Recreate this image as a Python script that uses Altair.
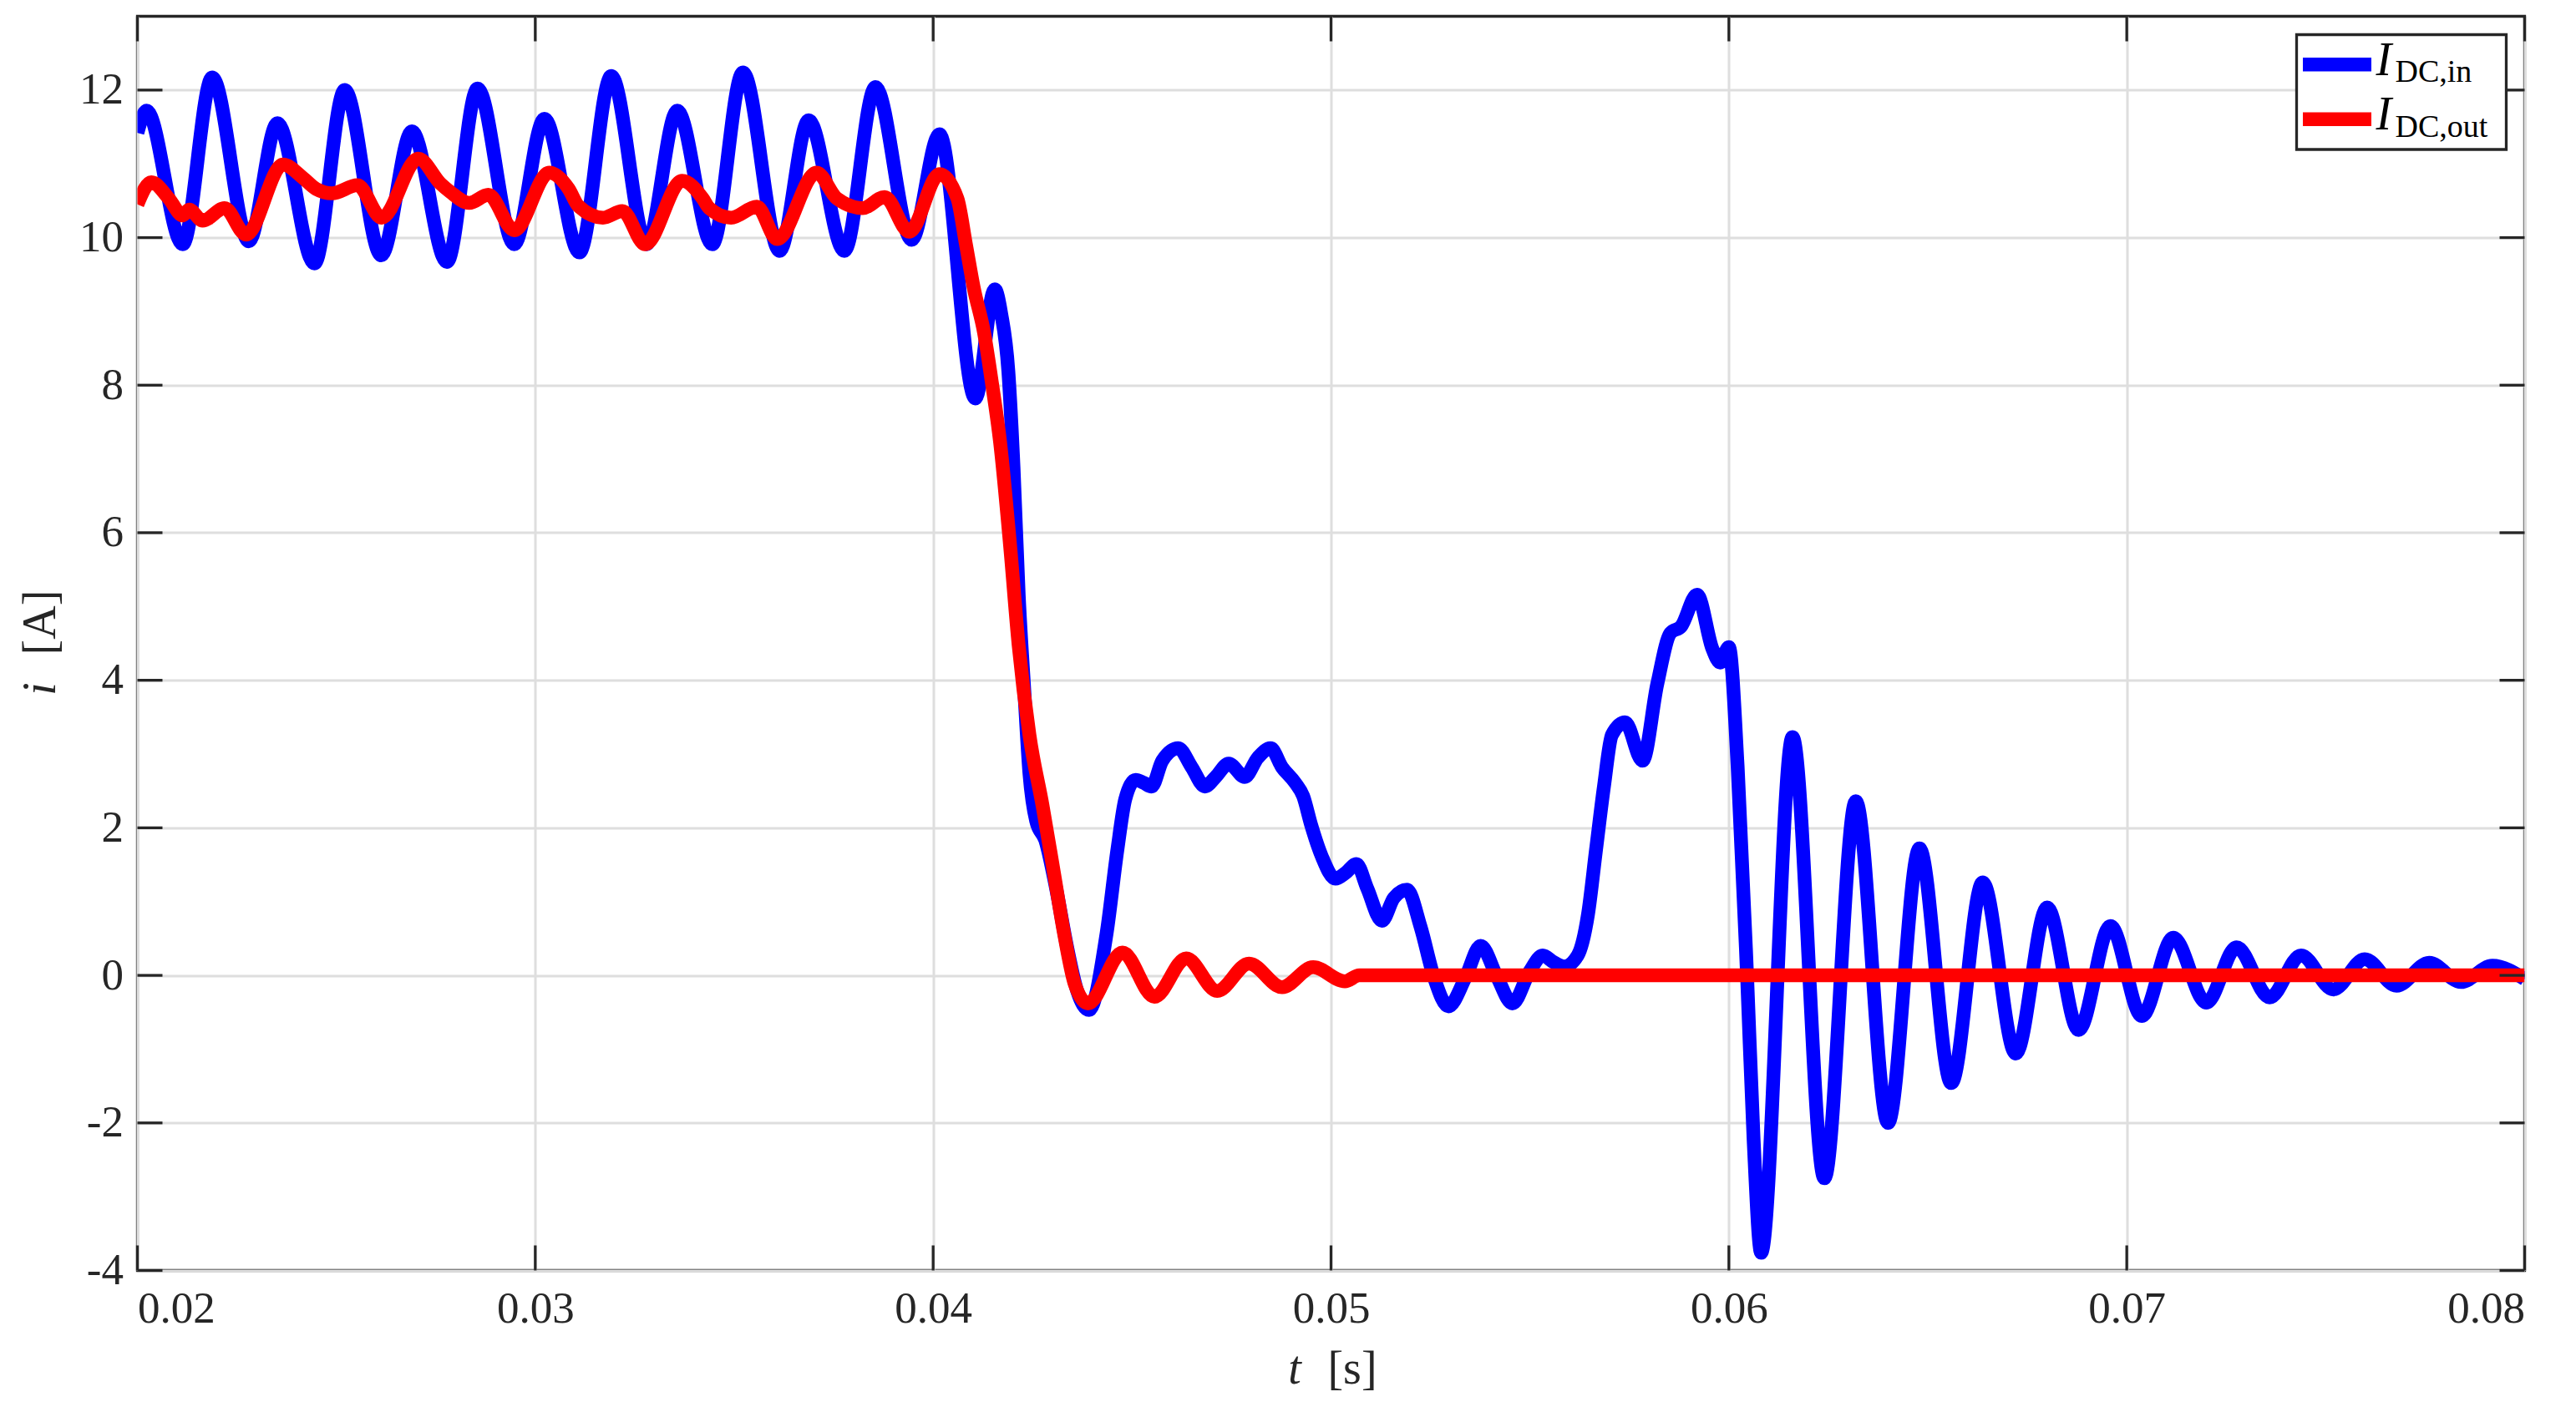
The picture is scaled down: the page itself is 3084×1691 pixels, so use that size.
import altair as alt
import pandas as pd

# ---------------- data ----------------
t_in = [0.02000, 0.02023, 0.02114, 0.02188, 0.02280, 0.02352, 0.02445, 0.02521, 0.02613, 0.02690,
        0.02778, 0.02855, 0.02947, 0.03023, 0.03111, 0.03191, 0.03280, 0.03357, 0.03445, 0.03522,
        0.03614, 0.03687, 0.03777, 0.03855, 0.03946, 0.04016, 0.04106, 0.04155, 0.04171, 0.04189,
        0.04202, 0.04215, 0.04229, 0.04242, 0.04259, 0.04282, 0.04309, 0.04336, 0.04362, 0.04392,
        0.04436, 0.04463, 0.04483, 0.04509, 0.04529, 0.04549, 0.04576, 0.04616, 0.04650, 0.04683,
        0.04710, 0.04743, 0.04783, 0.04816, 0.04848, 0.04877, 0.04910, 0.04930, 0.04950, 0.04977,
        0.05011, 0.05037, 0.05064, 0.05091, 0.05128, 0.05158, 0.05191, 0.05225, 0.05259, 0.05295,
        0.05338, 0.05376, 0.05418, 0.05456, 0.05499, 0.05532, 0.05559, 0.05586, 0.05620, 0.05646,
        0.05666, 0.05686, 0.05706, 0.05739, 0.05783, 0.05820, 0.05853, 0.05880, 0.05920, 0.05959,
        0.05978, 0.06000, 0.06022, 0.06046, 0.06062, 0.06081, 0.06160, 0.06240, 0.06319, 0.06400,
        0.06479, 0.06559, 0.06638, 0.06721, 0.06800, 0.06879, 0.06959, 0.07038, 0.07117, 0.07200,
        0.07276, 0.07359, 0.07438, 0.07519, 0.07598, 0.07678, 0.07760, 0.07840, 0.07919, 0.08000]
i_in = [11.42, 11.72, 9.91, 12.17, 9.95, 11.55, 9.65, 12.00, 9.76, 11.44,
        9.67, 12.02, 9.91, 11.61, 9.80, 12.19, 9.91, 11.72, 9.91, 12.24,
        9.82, 11.59, 9.82, 12.04, 9.97, 11.40, 7.82, 9.30, 8.97, 8.19,
        6.89, 5.16, 3.87, 2.74, 2.09, 1.83, 1.18, 0.40, -0.21, -0.47,
        0.57, 1.70, 2.39, 2.65, 2.61, 2.56, 2.91, 3.08, 2.82, 2.56,
        2.69, 2.87, 2.69, 2.95, 3.08, 2.82, 2.61, 2.43, 2.04, 1.61,
        1.31, 1.39, 1.51, 1.18, 0.74, 1.05, 1.16, 0.66, -0.03, -0.42,
        -0.03, 0.40, -0.03, -0.38, 0.05, 0.27, 0.18, 0.12, 0.27, 0.83,
        1.70, 2.56, 3.26, 3.43, 2.91, 3.95, 4.64, 4.73, 5.16, 4.42,
        4.24, 4.45, 2.83, -0.05, -2.21, -3.76, 3.23, -2.75, 2.36, -2.00,
        1.72, -1.46, 1.26, -1.06, 0.92, -0.74, 0.67, -0.55, 0.51, -0.37,
        0.38, -0.30, 0.27, -0.19, 0.22, -0.14, 0.17, -0.09, 0.13, -0.05]

t_out = [0.02000, 0.02035, 0.02079, 0.02114, 0.02130, 0.02164, 0.02219, 0.02273, 0.02366, 0.02416,
         0.02449, 0.02489, 0.02553, 0.02614, 0.02706, 0.02762, 0.02786, 0.02834, 0.02882, 0.02947,
         0.03035, 0.03084, 0.03108, 0.03170, 0.03219, 0.03276, 0.03369, 0.03421, 0.03437, 0.03492,
         0.03557, 0.03608, 0.03707, 0.03758, 0.03823, 0.03878, 0.03940, 0.04016, 0.04061, 0.04082,
         0.04102, 0.04128, 0.04148, 0.04168, 0.04193, 0.04215, 0.04242, 0.04275, 0.04302, 0.04329,
         0.04356, 0.04389, 0.04476, 0.04556, 0.04636, 0.04714, 0.04794, 0.04877, 0.04955, 0.05035,
         0.05071, 0.08000]
i_out = [10.45, 10.75, 10.53, 10.30, 10.38, 10.23, 10.40, 10.04, 10.99, 10.81,
         10.66, 10.60, 10.71, 10.27, 11.07, 10.73, 10.62, 10.47, 10.58, 10.10,
         10.88, 10.66, 10.43, 10.27, 10.36, 9.91, 10.77, 10.53, 10.40, 10.27,
         10.42, 9.98, 10.88, 10.53, 10.40, 10.55, 10.08, 10.86, 10.53, 9.92,
         9.32, 8.71, 8.02, 7.24, 5.85, 4.47, 3.26, 2.30, 1.44, 0.57,
         -0.12, -0.38, 0.31, -0.29, 0.23, -0.21, 0.16, -0.16, 0.11, -0.08,
         0.00, 0.00]

x_ticks = [0.02, 0.03, 0.04, 0.05, 0.06, 0.07, 0.08]
y_ticks = [-4, -2, 0, 2, 4, 6, 8, 10, 12]
legend_main = ["I", "I"]
legend_sub = ["DC,in", "DC,out"]
line_colors = ["#0000ff", "#ff0000"]
x_title = ["t", "[s]"]
y_title = ["i", "[A]"]

# ---------------- layout ----------------
W, H = 2858, 1502
FONT = "Liberation Serif"
INK = "#262626"
LW = 16.5
TICK = 30

df_in = pd.DataFrame({"t": t_in, "i": i_in})
df_out = pd.DataFrame({"t": t_out, "i": i_out})
df_xt = pd.DataFrame({"t": x_ticks})
df_yt = pd.DataFrame({"i": y_ticks})
one = pd.DataFrame({"k": [0]})

x_scale = alt.Scale(domain=[0.02, 0.08], nice=False, zero=False)
y_scale = alt.Scale(domain=[-4, 13], nice=False, zero=False)
x_axis = alt.Axis(values=x_ticks, title=None, labelExpr="format(datum.value, '.2f')",
                  labelPadding=20, labelFont=FONT, labelFontSize=53, labelColor=INK,
                  domain=False, ticks=False, grid=True, gridColor="#dedede", gridWidth=3)
y_axis = alt.Axis(values=y_ticks, title=None, labelExpr="datum.value + ''",
                  labelPadding=17, labelFont=FONT, labelFontSize=53, labelColor=INK,
                  domain=False, ticks=False, grid=True, gridColor="#dedede", gridWidth=3)

X = alt.X("t:Q", scale=x_scale, axis=x_axis)
Y = alt.Y("i:Q", scale=y_scale, axis=y_axis)

line_in = alt.Chart(df_in).mark_line(
    color=line_colors[0], strokeWidth=LW, interpolate="monotone", clip=True,
    strokeJoin="round", strokeCap="butt"
).encode(x=X, y=Y)

line_out = alt.Chart(df_out).mark_line(
    color=line_colors[1], strokeWidth=LW, interpolate="monotone", clip=True,
    strokeJoin="round", strokeCap="butt"
).encode(x=X, y=Y)

tick_style = dict(color=INK, strokeWidth=3.3)
ticks_top = alt.Chart(df_xt).mark_rule(**tick_style).encode(
    x=X, y=alt.value(0), y2=alt.value(TICK))
ticks_bot = alt.Chart(df_xt).mark_rule(**tick_style).encode(
    x=X, y=alt.value(H - TICK), y2=alt.value(H))
ticks_left = alt.Chart(df_yt).mark_rule(**tick_style).encode(
    y=Y, x=alt.value(0), x2=alt.value(TICK))
ticks_right = alt.Chart(df_yt).mark_rule(**tick_style).encode(
    y=Y, x=alt.value(W - TICK), x2=alt.value(W))

# ---------------- legend (hand-made for subscripts) ----------------
LX0, LX1, LY0, LY1 = 2585, 2836, 22, 159.5
legend_box = alt.Chart(one).mark_rect(
    fill="white", stroke=INK, strokeWidth=3.3
).encode(x=alt.value(LX0), x2=alt.value(LX1), y=alt.value(LY0), y2=alt.value(LY1))

legend_layers = [legend_box]
row_sample_y = [57.8, 123.3]
row_main_base = [70.5, 135.5]
row_sub_base = [78.8, 144.5]
for k in range(2):
    legend_layers.append(
        alt.Chart(one).mark_rule(color=line_colors[k], strokeWidth=LW, strokeCap="butt").encode(
            x=alt.value(2592.5), x2=alt.value(2674.5), y=alt.value(row_sample_y[k]))
    )
    legend_layers.append(
        alt.Chart(one).mark_text(
            text=legend_main[k], font=FONT, fontSize=56, fontStyle="italic",
            align="left", baseline="alphabetic", color="black"
        ).encode(x=alt.value(2680), y=alt.value(row_main_base[k]))
    )
    legend_layers.append(
        alt.Chart(one).mark_text(
            text=legend_sub[k], font=FONT, fontSize=38,
            align="left", baseline="alphabetic", color="black"
        ).encode(x=alt.value(2703), y=alt.value(row_sub_base[k]))
    )

# ---------------- axis titles (mixed italic) ----------------
TS = 56
xt1 = alt.Chart(one).mark_text(text=x_title[0], font=FONT, fontSize=TS, fontStyle="italic",
                               align="center", baseline="alphabetic", color=INK
                               ).encode(x=alt.value(1385.5), y=alt.value(1637.5))
xt2 = alt.Chart(one).mark_text(text=x_title[1], font=FONT, fontSize=TS,
                               align="center", baseline="alphabetic", color=INK
                               ).encode(x=alt.value(1454.5), y=alt.value(1637.5))
yt1 = alt.Chart(one).mark_text(text=y_title[0], font=FONT, fontSize=TS, fontStyle="italic",
                               align="center", baseline="alphabetic", angle=270, color=INK
                               ).encode(x=alt.value(-98.5), y=alt.value(805.5))
yt2 = alt.Chart(one).mark_text(text=y_title[1], font=FONT, fontSize=TS,
                               align="center", baseline="alphabetic", angle=270, color=INK
                               ).encode(x=alt.value(-98.5), y=alt.value(726))

chart = alt.layer(
    line_in, line_out, ticks_top, ticks_bot, ticks_left, ticks_right,
    *legend_layers, xt1, xt2, yt1, yt2
).properties(
    width=W, height=H,
    background="white",
    autosize=alt.AutoSizeParams(type="none"),
    padding={"left": 156.5, "top": 11.5, "right": 30, "bottom": 160},
).configure_view(
    stroke=INK, strokeWidth=3.3
).configure_axis(
    domain=False, ticks=False, grid=True, gridColor="#dedede", gridWidth=3,
    labelFont=FONT, labelFontSize=53, labelColor=INK,
)

chart.save("out.html", embed_options={"renderer": "svg", "actions": False})
